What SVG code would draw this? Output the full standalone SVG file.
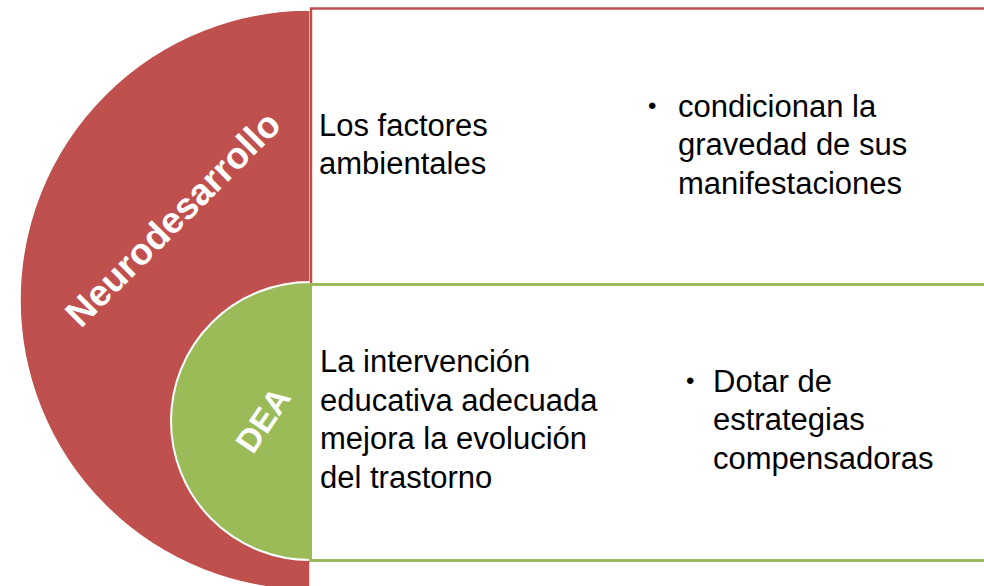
<svg xmlns="http://www.w3.org/2000/svg" width="984" height="586" viewBox="0 0 984 586">
  <style>
    .body { font-family: "Liberation Sans", Arial, sans-serif; font-size: 31px; fill: #000000; }
    .label { font-family: "Liberation Sans", Arial, sans-serif; font-weight: bold; fill: #FFFFFF; text-anchor: middle; dominant-baseline: central; }
    .bullet { font-family: "Liberation Sans", Arial, sans-serif; font-size: 24px; fill: #000000; }
  </style>
  <rect x="0" y="0" width="984" height="586" fill="#FFFFFF"/>
  <g id="neurodesarrollo">
    <path d="M 310,10 A 290,290 0 0 0 310,590 Z" fill="#C0504D" stroke="#FFFFFF" stroke-width="1.5"/>
    <text class="label" font-size="37" transform="translate(173,219) rotate(-45)">Neurodesarrollo</text>
  </g>
  <g id="dea">
    <path d="M 310,282 A 139,139 0 0 0 310,560 Z" fill="#9BBB59" stroke="#FFFFFF" stroke-width="2"/>
    <text class="label" font-size="33" transform="translate(263,420) rotate(-56)">DEA</text>
  </g>
  <g id="box-top">
    <rect x="311" y="8.5" width="690" height="276" fill="#FFFFFF" stroke="#C0504D" stroke-width="2.5"/>
    <text class="body" x="319" y="136">Los factores</text>
    <text class="body" x="319" y="174">ambientales</text>
    <text class="bullet" x="648" y="114">•</text>
    <text class="body" x="678" y="117">condicionan la</text>
    <text class="body" x="678" y="155">gravedad de sus</text>
    <text class="body" x="678" y="194">manifestaciones</text>
  </g>
  <g id="box-bottom">
    <rect x="310.5" y="284.5" width="690" height="276" fill="#FFFFFF" stroke="#9BBB59" stroke-width="3"/>
    <text class="body" x="320" y="372">La intervención</text>
    <text class="body" x="320" y="411">educativa adecuada</text>
    <text class="body" x="320" y="449">mejora la evolución</text>
    <text class="body" x="320" y="488">del trastorno</text>
    <text class="bullet" x="686" y="389">•</text>
    <text class="body" x="713" y="392">Dotar de</text>
    <text class="body" x="713" y="430">estrategias</text>
    <text class="body" x="713" y="469">compensadoras</text>
  </g>
  <g id="connectors"/>
</svg>
